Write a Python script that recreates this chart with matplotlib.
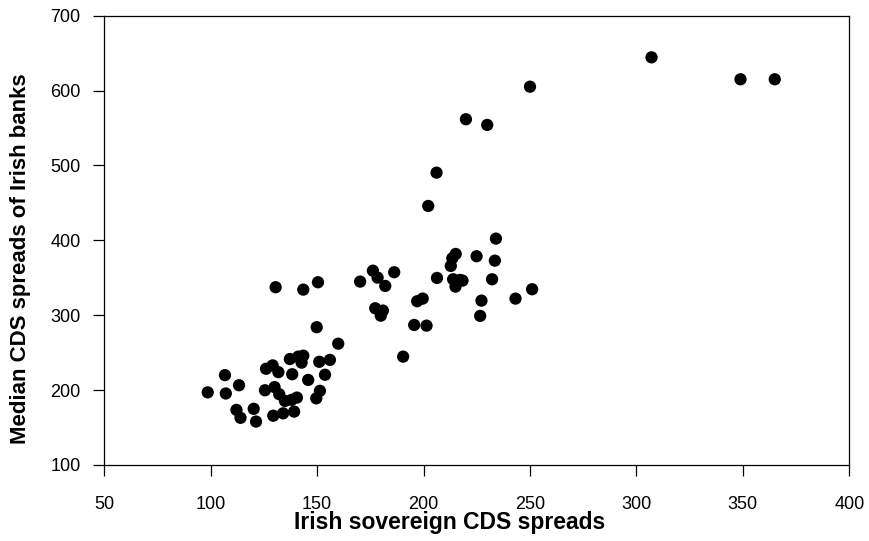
import matplotlib
matplotlib.use("Agg")
import matplotlib.pyplot as plt

plt.rcParams['font.family'] = ['Liberation Sans', 'DejaVu Sans']

# Irish sovereign CDS spreads (x) vs median CDS spreads of Irish banks (y)
sovereign_cds = [
    98.6, 106.7, 107.1, 113.3, 112.1, 114.0, 120.2, 121.3, 126.0, 129.1,
    131.8, 125.5, 130.0, 132.2, 134.9, 129.4, 134.0, 139.2, 138.0, 140.5,
    137.2, 141.1, 143.5, 142.7, 138.3, 145.8, 151.0, 156.0, 153.7, 151.3,
    149.6, 159.9, 149.8, 130.5, 143.5, 150.4, 170.2, 176.2, 178.4, 186.2,
    182.0, 177.3, 180.9, 179.9, 190.4, 195.6, 201.4, 197.0, 199.6, 206.3,
    213.9, 217.1, 215.0, 218.3, 212.8, 213.5, 215.1, 224.9, 233.5, 234.0,
    232.2, 227.2, 226.6, 243.2, 251.0, 202.2, 206.1, 219.9, 229.9, 250.0,
    307.1, 348.9, 365.0,
]
bank_cds = [
    197.0, 220.0, 195.5, 206.5, 173.6, 163.0, 175.0, 158.0, 228.5, 233.0,
    224.0, 199.8, 204.0, 194.5, 185.5, 165.8, 169.0, 171.3, 187.0, 190.0,
    241.5, 244.7, 246.0, 236.7, 221.2, 213.6, 237.8, 240.4, 220.5, 199.0,
    189.0, 262.0, 284.0, 337.4, 334.2, 344.0, 344.9, 359.5, 350.2, 357.4,
    339.1, 309.3, 306.2, 299.4, 244.7, 287.0, 286.1, 318.7, 322.2, 349.8,
    348.0, 347.1, 338.2, 346.2, 365.8, 376.0, 381.8, 378.8, 372.9, 402.3,
    348.0, 319.5, 299.1, 322.2, 334.7, 445.9, 490.4, 561.7, 554.1, 605.2,
    644.4, 615.1, 615.1,
]

x_ticks = [50, 100, 150, 200, 250, 300, 350, 400]
y_ticks = [100, 200, 300, 400, 500, 600, 700]

fig = plt.figure(figsize=(8.69, 5.41), dpi=100, facecolor='white')
ax = fig.add_axes([0.12, 0.1405, 0.8573, 0.8305])

ax.scatter(sovereign_cds, bank_cds, s=78, color='black', edgecolors='none', zorder=3)

ax.set_xlim(50, 400)
ax.set_ylim(100, 700)
ax.set_xticks(x_ticks)
ax.set_yticks(y_ticks)
ax.tick_params(axis='x', direction='out', length=8, width=0.9, labelsize=13, pad=14)
ax.tick_params(axis='y', direction='out', length=8, width=0.9, labelsize=13, pad=9)
for sp in ax.spines.values():
    sp.set_linewidth(0.9)

ax.set_xlabel('Irish sovereign CDS spreads', fontsize=16.5, fontweight='bold')
ax.set_ylabel('Median CDS spreads of Irish banks', fontsize=16, fontweight='bold')
ax.xaxis.set_label_coords(0.463, -0.129)
ax.yaxis.set_label_coords(-0.112, 0.46)
ax.xaxis.label.set_va('center')
ax.yaxis.label.set_va('center')

fig.savefig('out.png', dpi=100, facecolor='white')
